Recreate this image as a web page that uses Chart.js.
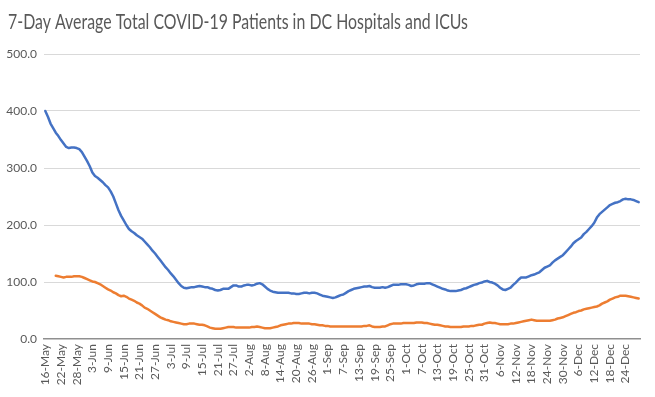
<!DOCTYPE html>
<html><head><meta charset="utf-8">
<script src="https://cdn.jsdelivr.net/npm/chart.js@4/dist/chart.umd.min.js"></script>
<style>html,body{margin:0;padding:0;background:#fff}canvas{display:block}</style>
</head><body>
<canvas id="c" width="655" height="397"></canvas>
<script>
const titleText = '7-Day Average Total COVID-19 Patients in DC Hospitals and ICUs';
const seriesNames = ['Total COVID-19 Patients in DC Hospitals', 'COVID-19 Patients in DC ICUs'];
const firstDay = '2020-05-16';
const dayCount = 228;
const labelEvery = 6;
const monthNames = ['Jan','Feb','Mar','Apr','May','Jun','Jul','Aug','Sep','Oct','Nov','Dec'];
const yTickValues = [0, 100, 200, 300, 400, 500];

const hospitalTotal = [
400,390,378,370,362,356,349,343,337,335,336,336,335,333,328,320,312,303,292,286,
283,279,275,270,266,259,250,238,226,216,208,200,193,189,186,182,179,176,171,166,
161,155,150,144,138,132,126,121,115,110,104,98,93,90,89,90,91,91,92,93,
92,91,91,89,88,86,85,86,88,88,88,91,94,94,92,92,94,95,95,94,
95,97,98,96,92,88,85,83,82,81,81,81,81,81,80,80,79,79,80,81,
81,80,81,81,80,78,76,75,74,73,72,73,75,77,78,81,84,86,88,89,
90,91,92,92,93,91,90,90,90,91,90,91,93,95,95,95,96,96,96,95,
93,94,96,97,97,97,98,98,96,94,92,90,88,87,85,84,84,84,85,86,
88,89,91,93,95,96,98,99,101,102,100,99,97,94,90,87,86,88,90,95,
99,104,108,108,108,110,112,113,115,117,121,125,127,129,134,138,141,144,147,152,
157,162,168,172,175,178,184,188,193,198,204,213,219,223,227,231,235,237,239,240,
242,245,246,245,245,244,242,240
];

const icuTotal = [
null,null,null,null,111,110,109,108,109,109,109,110,110,110,109,107,105,103,101,100,
98,96,93,90,87,85,82,80,77,75,76,74,71,69,67,64,62,59,55,53,
50,47,44,41,38,36,34,33,31,30,29,28,27,26,26,27,27,27,26,25,
25,24,22,20,19,18,18,18,19,20,21,21,21,20,20,20,20,20,20,21,
21,22,21,20,19,19,19,20,21,22,24,25,26,27,27,28,28,28,27,27,
27,27,26,26,25,24,24,23,23,22,22,22,22,22,22,22,22,22,22,22,
22,22,23,23,24,22,21,21,21,22,22,24,26,27,27,27,27,28,28,28,
28,28,29,29,29,28,28,27,26,25,25,24,23,22,22,21,21,21,21,21,
22,22,22,23,23,24,25,25,27,28,29,28,28,27,26,26,26,26,27,27,
28,29,30,31,32,33,34,33,32,32,32,32,32,32,33,34,36,37,38,40,
42,44,46,47,49,50,52,53,54,55,56,57,59,62,64,66,69,71,73,74,
76,76,76,75,74,73,72,71
];

const categories = [];
{
  const p = firstDay.split('-').map(Number);
  for (let i = 0; i < dayCount; i++) {
    const d = new Date(Date.UTC(p[0], p[1] - 1, p[2] + i));
    categories.push(d.getUTCDate() + '-' + monthNames[d.getUTCMonth()]);
  }
}

const textColor = '#595959';

const titlePlugin = {
  id: 'fittedTitle',
  afterDraw(chart) {
    const ctx = chart.ctx;
    ctx.save();
    ctx.font = '18px Lato';
    const w = ctx.measureText(titleText).width;
    const targetW = 460;
    ctx.translate(8, 29);
    ctx.scale(targetW / w, 1.12);
    ctx.fillStyle = textColor;
    ctx.textBaseline = 'alphabetic';
    ctx.textAlign = 'left';
    ctx.fillText(titleText, 0, 0);
    ctx.restore();
  }
};

new Chart(document.getElementById('c'), {
  type: 'line',
  data: {
    labels: categories,
    datasets: [
      { label: seriesNames[0], data: hospitalTotal, borderColor: '#4472C4', backgroundColor: '#4472C4',
        borderWidth: 2.5, pointRadius: 0, tension: 0, borderCapStyle: 'round', borderJoinStyle: 'round', fill: false },
      { label: seriesNames[1], data: icuTotal, borderColor: '#ED7D31', backgroundColor: '#ED7D31',
        borderWidth: 2.5, pointRadius: 0, tension: 0, borderCapStyle: 'round', borderJoinStyle: 'round', fill: false }
    ]
  },
  options: {
    responsive: false,
    animation: false,
    devicePixelRatio: 1,
    layout: { padding: { top: 54, right: 15, left: 0, bottom: 0 } },
    plugins: { legend: { display: false }, tooltip: { enabled: false }, title: { display: false } },
    scales: {
      x: {
        type: 'category',
        offset: true,
        grid: { display: false, drawTicks: false },
        border: { display: true, color: '#8f8f8f', width: 1.5 },
        ticks: {
          autoSkip: false, maxRotation: 90, minRotation: 90, padding: 5,
          color: textColor, font: { family: 'Lato', size: 12 },
          callback: function(v, i) { return i % labelEvery === 0 ? categories[i] : null; }
        },
        afterFit(scale) { scale.height = 58; }
      },
      y: {
        min: yTickValues[0], max: yTickValues[yTickValues.length - 1],
        afterBuildTicks(scale) { scale.ticks = yTickValues.map(v => ({ value: v })); },
        grid: { drawTicks: false, color: ctx => (ctx.tick && ctx.tick.value === 0) ? 'rgba(0,0,0,0)' : '#d9d9d9', lineWidth: 1 },
        border: { display: false },
        ticks: { padding: 7, color: textColor, font: { family: 'Lato', size: 12 },
          callback: v => Number(v).toFixed(1) },
        afterFit(scale) { scale.width = 44; }
      }
    }
  },
  plugins: [titlePlugin]
});
</script>
</body></html>
